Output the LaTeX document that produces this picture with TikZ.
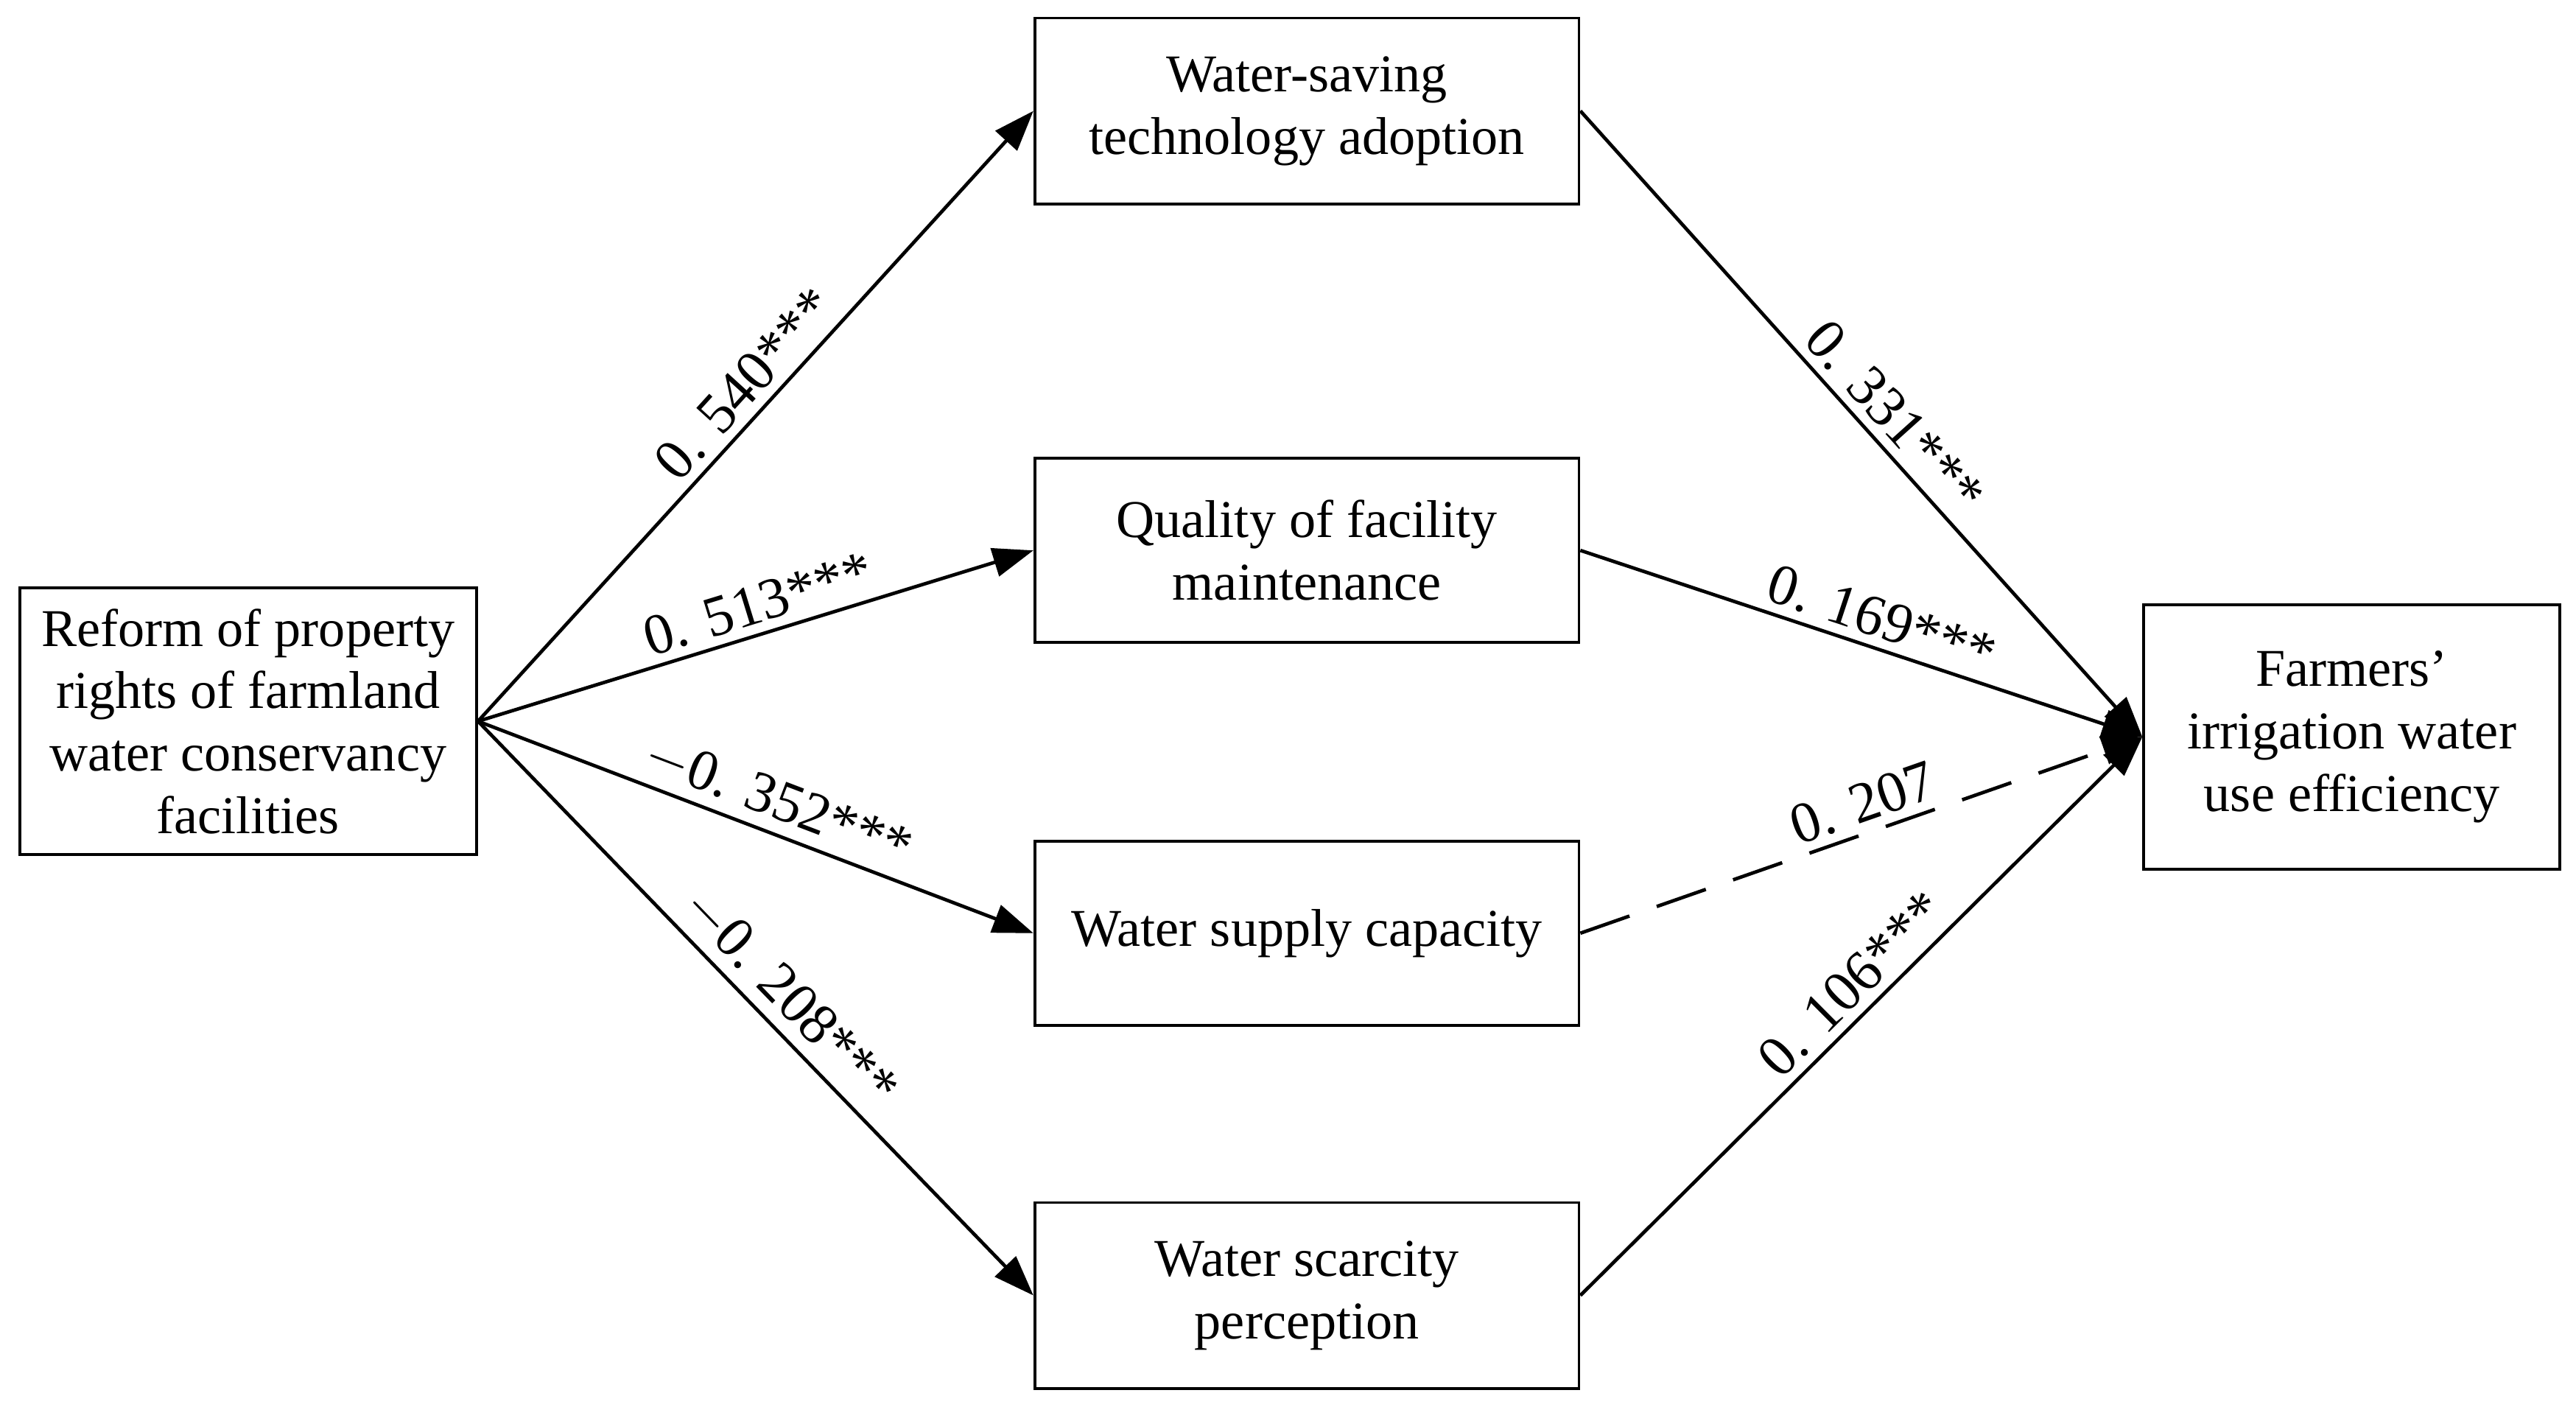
\documentclass[tikz,border=0pt]{standalone}
\usepackage{fontspec}
\setmainfont{Liberation Serif}
\usetikzlibrary{arrows.meta}
\begin{document}
\begin{tikzpicture}[x=0.01cm,y=-0.01cm,
  box/.style={draw,line width=0.5pt,align=center,inner sep=0pt,font=\fontsize{9.2}{10.8}\selectfont},
  arr/.style={line width=0.6pt,-{Triangle[length=7pt,width=5pt]}},
  lab/.style={pos=0.52,above,sloped,font=\fontsize{10}{12}\selectfont,inner sep=1.5pt}]
\useasboundingbox (0,0) rectangle (1568,856);
\node[box,minimum width=2.78cm,minimum height=1.62cm] (L) at (151,439) {Reform of property\\rights of farmland\\water conservancy\\facilities};
\node[box,minimum width=3.31cm,minimum height=1.13cm] (A) at (795.5,67.5) {Water-saving\\technology adoption};
\node[box,minimum width=3.31cm,minimum height=1.12cm] (B) at (795.5,335) {Quality of facility\\maintenance};
\node[box,minimum width=3.31cm,minimum height=1.12cm] (C) at (795.5,568) {Water supply capacity};
\node[box,minimum width=3.31cm,minimum height=1.13cm] (D) at (795.5,788.5) {Water scarcity\\perception};
\node[box,minimum width=2.53cm,minimum height=1.61cm] (R) at (1431.5,448.5) {Farmers'\\irrigation water\\use efficiency};
\draw[arr] (L.east) -- (A.west) node[lab] {0. 540***};
\draw[arr] (L.east) -- (B.west) node[lab] {0. 513***};
\draw[arr] (L.east) -- (C.west) node[lab] {$-$0. 352***};
\draw[arr] (L.east) -- (D.west) node[lab] {$-$0. 208***};
\draw[arr] (A.east) -- (R.west) node[lab] {0. 331***};
\draw[arr] (B.east) -- (R.west) node[lab] {0. 169***};
\draw[arr,dash pattern=on 9pt off 5pt] (C.east) -- (R.west) node[lab] {0. 207};
\draw[arr] (D.east) -- (R.west) node[lab] {0. 106***};
\end{tikzpicture}
\end{document}
